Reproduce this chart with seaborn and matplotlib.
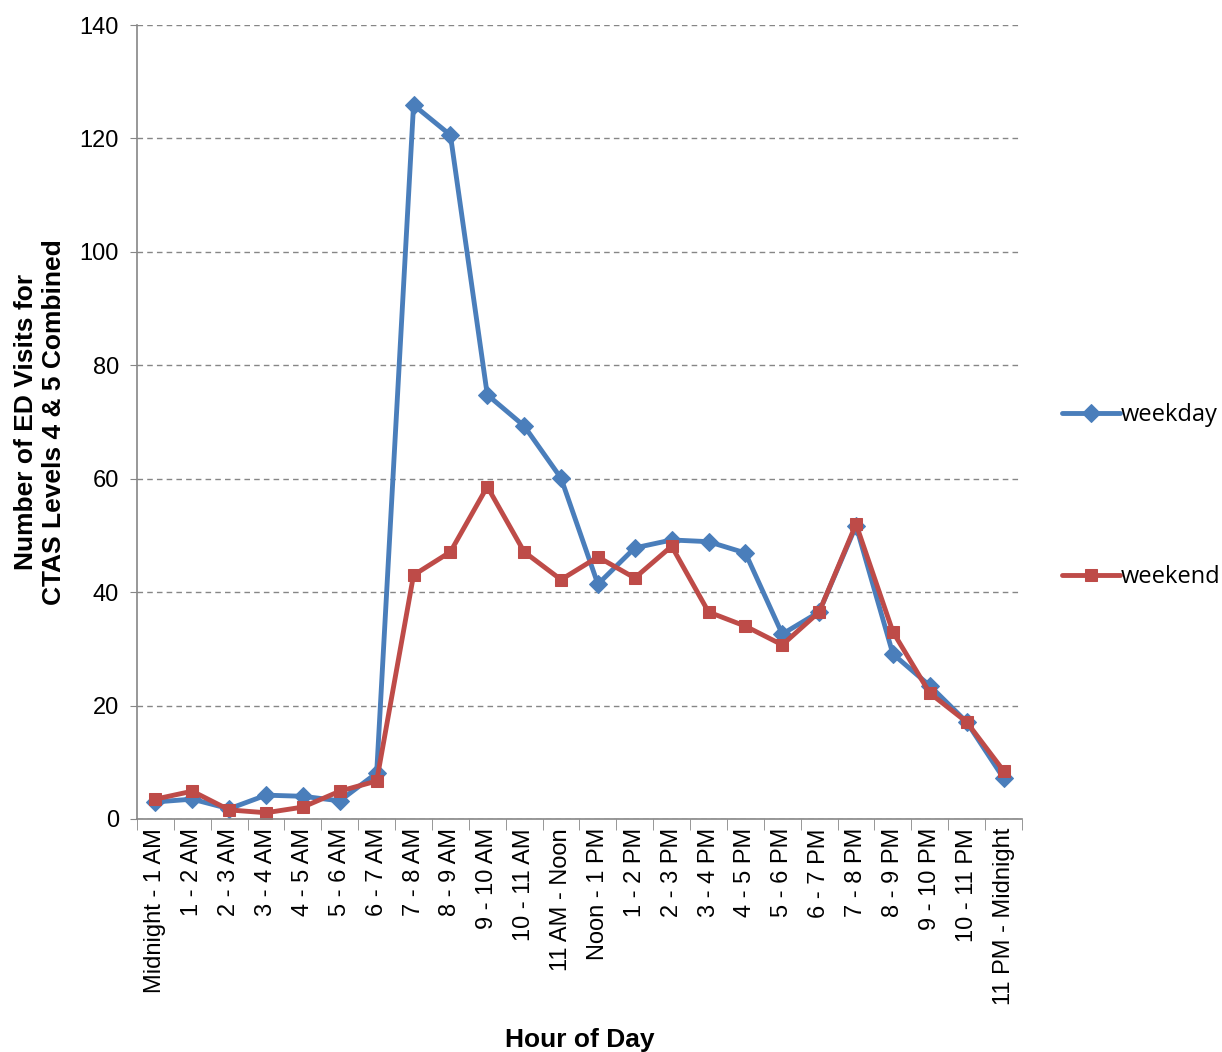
"""
ED visits (CTAS 4 & 5) by hour of day, weekday vs weekend
"""

import pandas as pd
import matplotlib
matplotlib.use('Agg')
import matplotlib.pyplot as plt
import seaborn as sns

hours = [
    'Midnight - 1 AM', '1 - 2 AM', '2 - 3 AM', '3 - 4 AM', '4 - 5 AM', '5 - 6 AM',
    '6 - 7 AM', '7 - 8 AM', '8 - 9 AM', '9 - 10 AM', '10 - 11 AM', '11 AM - Noon',
    'Noon - 1 PM', '1 - 2 PM', '2 - 3 PM', '3 - 4 PM', '4 - 5 PM', '5 - 6 PM',
    '6 - 7 PM', '7 - 8 PM', '8 - 9 PM', '9 - 10 PM', '10 - 11 PM', '11 PM - Midnight',
]
weekday = [3.0, 3.5, 1.8, 4.2, 4.0, 3.2, 8.1, 125.9, 120.6, 74.8, 69.3, 60.1,
           41.4, 47.8, 49.2, 48.9, 46.9, 32.6, 36.5, 51.7, 29.1, 23.5, 17.1, 7.2]
weekend = [3.5, 4.9, 1.6, 1.1, 2.1, 4.9, 6.7, 43.0, 47.1, 58.6, 47.1, 42.2,
           46.2, 42.5, 48.1, 36.5, 34.0, 30.7, 36.5, 52.0, 33.0, 22.2, 17.1, 8.5]

blue = '#4A7EBB'
red = '#BE4B48'
grey = '#868686'

sns.set_style('white')
plt.rcParams['font.family'] = ['Liberation Sans', 'DejaVu Sans']
plt.rcParams['text.color'] = 'black'
plt.rcParams['axes.labelcolor'] = 'black'
plt.rcParams['xtick.color'] = 'black'
plt.rcParams['ytick.color'] = 'black'

df = pd.DataFrame({'idx': range(len(hours)), 'weekday': weekday, 'weekend': weekend})

fig = plt.figure(figsize=(12.22, 10.52), dpi=100)
ax = fig.add_axes([0.1121, 0.2215, 0.8363 - 0.1121, 0.9762 - 0.2215])

sns.lineplot(data=df, x='idx', y='weekday', ax=ax, color=blue, linewidth=3.5,
             marker='D', markersize=9, markeredgecolor=blue, label='weekday')
sns.lineplot(data=df, x='idx', y='weekend', ax=ax, color=red, linewidth=3.5,
             marker='s', markersize=9, markeredgecolor=red, label='weekend')

ax.set_xlim(-0.5, len(hours) - 0.5)
ax.set_ylim(0, 140)
ax.set_yticks(range(0, 141, 20))
ax.set_xticks(range(len(hours)))
ax.set_xticklabels(hours, rotation=90, fontsize=17)
ax.tick_params(axis='y', labelsize=17, left=True, length=5, color=grey, pad=8)
ax.tick_params(axis='x', bottom=False, pad=3)
# category separator ticks
ax.set_xticks([i - 0.5 for i in range(len(hours) + 1)], minor=True)
ax.tick_params(axis='x', which='minor', bottom=True, length=8, color=grey)

ax.yaxis.grid(True, linestyle=(0, (4, 3)), color=grey, linewidth=1)
ax.set_axisbelow(True)
for side in ['top', 'right']:
    ax.spines[side].set_visible(False)
for side in ['left', 'bottom']:
    ax.spines[side].set_color(grey)
    ax.spines[side].set_linewidth(1.2)

ax.set_xlabel('Hour of Day', fontsize=19, fontweight='bold', labelpad=16)
ax.set_ylabel('Number of ED Visits for\nCTAS Levels 4 & 5 Combined', fontsize=19,
              fontweight='bold', labelpad=10)

ax.get_legend().remove()
handles, labels = ax.get_legend_handles_labels()
fig.legend(handles, labels, loc='center left', bbox_to_anchor=(0.869, 0.5285),
           frameon=False, labelspacing=5.85, handlelength=2.45, handletextpad=0.05,
           borderpad=0, borderaxespad=0,
           prop={'family': 'Open Sans', 'size': 17})

fig.savefig('out.png', dpi=100)
